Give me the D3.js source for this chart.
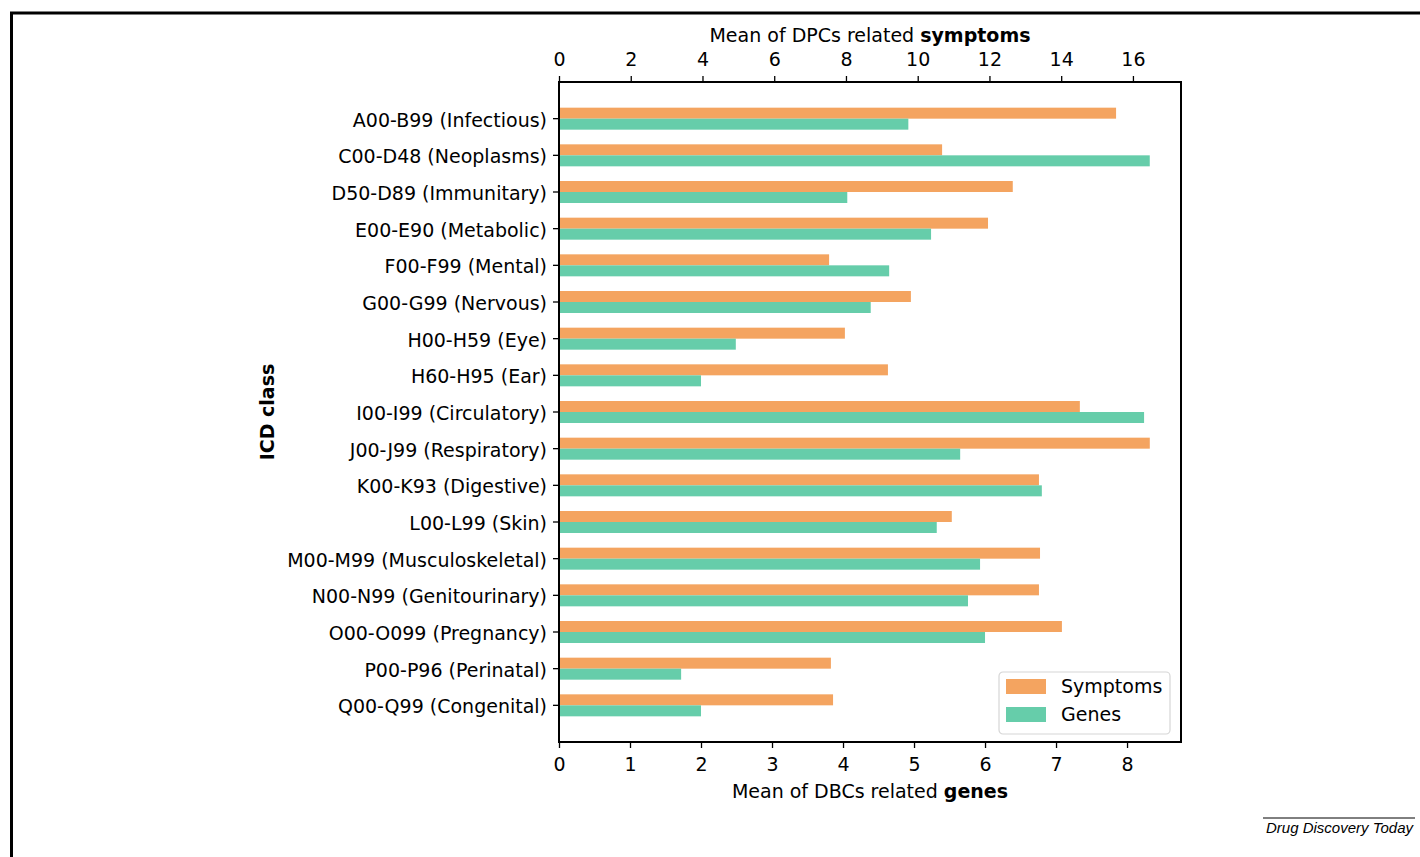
<!DOCTYPE html>
<html>
<head>
<meta charset="utf-8">
<script src="https://cdn.jsdelivr.net/npm/d3@7"></script>
<style>
  body { margin: 0; background: #fff; }
  svg { display: block; }
</style>
</head>
<body>
<svg id="chart" width="1420" height="857"></svg>
<script>
const categories = [
  "A00-B99 (Infectious)", "C00-D48 (Neoplasms)", "D50-D89 (Immunitary)",
  "E00-E90 (Metabolic)", "F00-F99 (Mental)", "G00-G99 (Nervous)",
  "H00-H59 (Eye)", "H60-H95 (Ear)", "I00-I99 (Circulatory)",
  "J00-J99 (Respiratory)", "K00-K93 (Digestive)", "L00-L99 (Skin)",
  "M00-M99 (Musculoskeletal)", "N00-N99 (Genitourinary)", "O00-O099 (Pregnancy)",
  "P00-P96 (Perinatal)", "Q00-Q99 (Congenital)"
];
const symptoms = [15.53, 10.68, 12.65, 11.96, 7.53, 9.81, 7.97, 9.17, 14.52,
  16.47, 13.38, 10.95, 13.41, 13.38, 14.02, 7.58, 7.64];
const genes = [4.92, 8.32, 4.06, 5.24, 4.65, 4.39, 2.49, 2.00, 8.24,
  5.65, 6.80, 5.32, 5.93, 5.76, 6.00, 1.72, 2.00];
const symptomTicks = [0, 2, 4, 6, 8, 10, 12, 14, 16];
const geneTicks = [0, 1, 2, 3, 4, 5, 6, 7, 8];

const svg = d3.select("#chart");
const font = "'DejaVu Sans', sans-serif";
const plot = { left: 559, right: 1181, top: 82, bottom: 742 };
const orange = "#f4a460", green = "#66cdaa";

// page frame
svg.append("line").attr("x1", 10).attr("x2", 1420).attr("y1", 13).attr("y2", 13)
  .attr("stroke", "#000").attr("stroke-width", 3);
svg.append("line").attr("x1", 11.5).attr("x2", 11.5).attr("y1", 12).attr("y2", 857)
  .attr("stroke", "#000").attr("stroke-width", 3);

const xS = d3.scaleLinear().domain([0, 17.34]).range([plot.left, plot.right]);
const xG = d3.scaleLinear().domain([0, 8.76]).range([plot.left, plot.right]);
const y = d3.scaleBand().domain(categories).range([plot.top, plot.bottom])
  .paddingInner(0).paddingOuter(0.5);
const barH = y.bandwidth() * 0.3;

const data = categories.map((c, i) => ({ c, s: symptoms[i], g: genes[i] }));

svg.selectAll(".bs").data(data).enter().append("rect")
  .attr("x", plot.left)
  .attr("y", d => y(d.c) + y.bandwidth() / 2 - barH)
  .attr("width", d => xS(d.s) - plot.left)
  .attr("height", barH)
  .attr("fill", orange);

svg.selectAll(".bg").data(data).enter().append("rect")
  .attr("x", plot.left)
  .attr("y", d => y(d.c) + y.bandwidth() / 2)
  .attr("width", d => xG(d.g) - plot.left)
  .attr("height", barH)
  .attr("fill", green);

function styleAxis(g) {
  g.select(".domain").remove();
  g.selectAll("line").attr("stroke", "#000").attr("stroke-width", 1.3);
  g.selectAll("text").attr("font-family", font).attr("font-size", 19).attr("fill", "#000");
}

svg.append("g").attr("transform", `translate(0,${plot.top})`)
  .call(d3.axisTop(xS).tickValues(symptomTicks).tickSize(6).tickPadding(10))
  .call(styleAxis);

svg.append("g").attr("transform", `translate(0,${plot.bottom})`)
  .call(d3.axisBottom(xG).tickValues(geneTicks).tickSize(6).tickPadding(10))
  .call(styleAxis);

svg.append("g").attr("transform", `translate(${plot.left},0)`)
  .call(d3.axisLeft(y).tickSize(6).tickPadding(6))
  .call(styleAxis)
  .call(g => g.selectAll("text").attr("dy", "0.42em"));

// plot frame
svg.append("rect").attr("x", plot.left).attr("y", plot.top)
  .attr("width", plot.right - plot.left).attr("height", plot.bottom - plot.top)
  .attr("fill", "none").attr("stroke", "#000").attr("stroke-width", 2);

// axis titles
const topTitle = svg.append("text").attr("x", (plot.left + plot.right) / 2).attr("y", 42)
  .attr("text-anchor", "middle").attr("font-family", font).attr("font-size", 19);
topTitle.append("tspan").text("Mean of DPCs related ");
topTitle.append("tspan").attr("font-weight", "bold").text("symptoms");

const botTitle = svg.append("text").attr("x", (plot.left + plot.right) / 2).attr("y", 798)
  .attr("text-anchor", "middle").attr("font-family", font).attr("font-size", 19);
botTitle.append("tspan").text("Mean of DBCs related ");
botTitle.append("tspan").attr("font-weight", "bold").text("genes");

svg.append("text")
  .attr("transform", `translate(274,${(plot.top + plot.bottom) / 2}) rotate(-90)`)
  .attr("text-anchor", "middle").attr("font-family", font)
  .attr("font-size", 19).attr("font-weight", "bold").text("ICD class");

// legend
const legend = svg.append("g").attr("transform", "translate(999,672)");
legend.append("rect").attr("width", 171).attr("height", 62).attr("rx", 4)
  .attr("fill", "#fff").attr("fill-opacity", 0.8)
  .attr("stroke", "#d6d6d6").attr("stroke-width", 1.2);
[["Symptoms", orange], ["Genes", green]].forEach(([label, col], i) => {
  legend.append("rect").attr("x", 7).attr("y", 7 + i * 28)
    .attr("width", 40).attr("height", 15).attr("fill", col);
  legend.append("text").attr("x", 62).attr("y", 21 + i * 28)
    .attr("font-family", font).attr("font-size", 19).text(label);
});

// source credit
svg.append("line").attr("x1", 1263).attr("x2", 1415).attr("y1", 818).attr("y2", 818)
  .attr("stroke", "#000").attr("stroke-width", 1);
svg.append("text").attr("x", 1413).attr("y", 833)
  .attr("text-anchor", "end").attr("font-family", "'Liberation Sans', Arial, sans-serif")
  .attr("font-style", "italic").attr("font-size", 15).text("Drug Discovery Today");
</script>
</body>
</html>
